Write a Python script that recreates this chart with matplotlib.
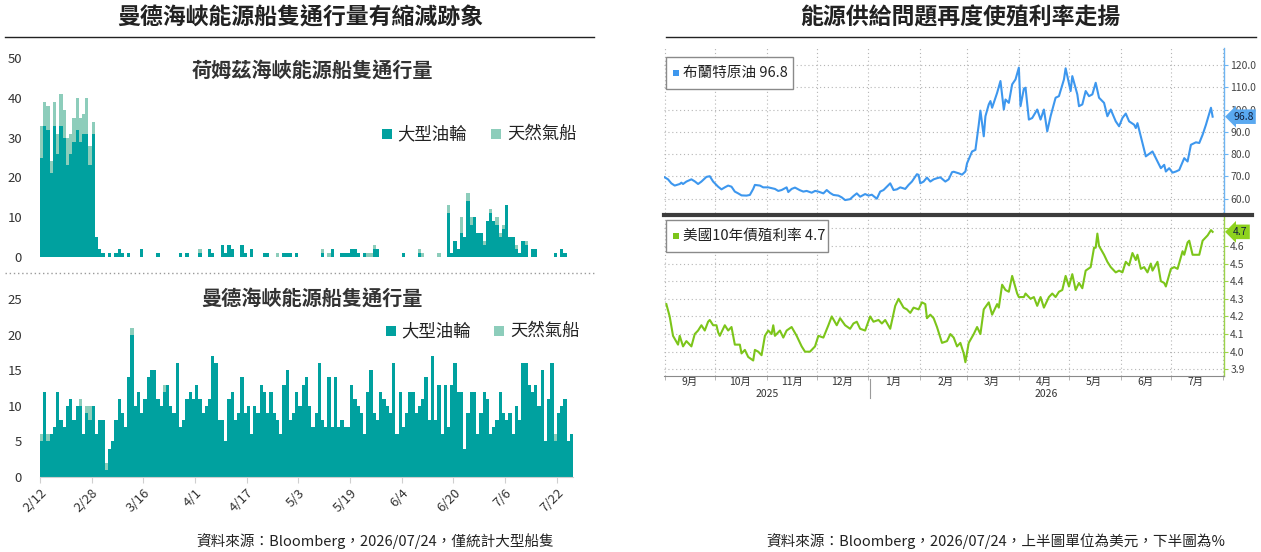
import numpy as np
import pandas as pd
import matplotlib
matplotlib.use('Agg')
import matplotlib.pyplot as plt
import matplotlib.dates as mdates
import matplotlib.transforms as mtransforms
from matplotlib.patches import Rectangle
from matplotlib.lines import Line2D
from matplotlib.ticker import FixedFormatter, FuncFormatter

plt.rcParams['font.family'] = ['Noto Sans CJK TC', 'DejaVu Sans']

# ---------------- data: left panel (daily counts from 2/12) ----------------
ship_start = '2026-02-12'
tick_labels = ['2/12', '2/28', '3/16', '4/1', '4/17', '5/3', '5/19', '6/4', '6/20', '7/6', '7/22']

hormuz_tanker = [25, 33, 32, 21, 33, 26, 33, 30, 23, 26, 29, 32, 29, 31, 31, 23, 31, 5, 2, 1,
                 0, 1, 0, 1, 2, 1, 0, 1, 0, 0, 0, 2, 0, 0, 0, 0, 1, 0, 0, 0,
                 0, 0, 0, 1, 0, 1, 0, 0, 0, 1, 0, 0, 2, 1, 0, 0, 3, 1, 3, 2,
                 0, 0, 3, 1, 0, 2, 0, 0, 0, 1, 1, 0, 0, 0, 0, 1, 1, 1, 0, 1,
                 0, 0, 0, 0, 0, 0, 0, 1, 0, 0, 2, 0, 0, 1, 1, 1, 2, 2, 1, 0,
                 1, 0, 0, 2, 2, 0, 0, 0, 0, 0, 0, 0, 1, 0, 0, 0, 0, 1, 0, 0,
                 0, 0, 0, 0, 0, 0, 11, 1, 4, 2, 6, 5, 14, 8, 10, 6, 6, 3, 9, 11,
                 9, 8, 5, 7, 13, 5, 5, 2, 1, 4, 3, 0, 2, 2, 0, 0, 0, 0, 0, 1,
                 0, 2, 1, 0, 0]
hormuz_lng = [8, 6, 6, 3, 6, 5, 8, 7, 7, 5, 6, 8, 6, 5, 9, 5, 3, 0, 0, 0,
              0, 0, 0, 0, 0, 0, 0, 0, 0, 0, 0, 0, 0, 0, 0, 0, 0, 0, 0, 0,
              0, 0, 0, 0, 0, 0, 0, 0, 0, 1, 0, 0, 0, 0, 0, 0, 0, 0, 0, 0,
              0, 0, 0, 0, 0, 0, 0, 0, 0, 0, 0, 0, 0, 1, 0, 0, 0, 0, 0, 0,
              0, 0, 0, 0, 0, 0, 0, 1, 0, 1, 0, 0, 0, 0, 0, 0, 0, 0, 0, 0,
              0, 1, 1, 1, 0, 0, 0, 0, 0, 0, 0, 0, 0, 0, 0, 0, 0, 1, 1, 0,
              0, 0, 0, 1, 0, 0, 2, 0, 0, 0, 4, 0, 2, 2, 0, 0, 0, 1, 0, 1,
              0, 2, 1, 1, 0, 0, 0, 1, 0, 0, 1, 0, 0, 0, 0, 0, 0, 0, 0, 0,
              0, 0, 0, 0, 0]

mandeb_tanker = [5, 12, 5, 6, 7, 12, 8, 7, 10, 11, 8, 10, 10, 6, 9, 8, 10, 6, 8, 8,
                 1, 4, 5, 8, 11, 9, 7, 14, 20, 10, 12, 9, 11, 14, 15, 15, 11, 10, 12, 13,
                 10, 9, 16, 7, 8, 11, 12, 11, 13, 11, 9, 10, 11, 17, 16, 8, 8, 5, 11, 12,
                 8, 9, 14, 9, 10, 6, 10, 9, 13, 12, 9, 12, 9, 8, 6, 13, 15, 8, 9, 12,
                 10, 13, 14, 10, 7, 9, 16, 8, 7, 14, 7, 14, 7, 8, 7, 7, 13, 11, 10, 9,
                 6, 12, 15, 9, 8, 12, 11, 10, 9, 16, 6, 12, 7, 9, 12, 12, 9, 10, 11, 14,
                 8, 17, 8, 13, 6, 13, 7, 13, 16, 12, 12, 4, 9, 12, 12, 6, 9, 12, 11, 6,
                 7, 8, 12, 9, 8, 9, 6, 10, 8, 16, 16, 13, 12, 13, 10, 15, 5, 11, 16, 5,
                 9, 10, 11, 5, 6]
mandeb_lng = [1, 0, 1, 0, 0, 0, 0, 0, 0, 0, 0, 0, 1, 0, 1, 2, 0, 0, 0, 0,
              1, 0, 0, 0, 0, 0, 0, 0, 1, 0, 0, 0, 0, 0, 0, 0, 0, 0, 1, 0,
              0, 0, 0, 0, 0, 0, 0, 0, 0, 0, 0, 0, 0, 0, 0, 0, 0, 0, 0, 0,
              0, 0, 0, 0, 0, 0, 0, 0, 0, 0, 0, 0, 0, 0, 0, 0, 0, 0, 0, 0,
              0, 0, 0, 0, 0, 0, 0, 0, 0, 0, 0, 0, 0, 0, 0, 0, 0, 0, 0, 0,
              0, 0, 0, 0, 0, 0, 0, 0, 0, 0, 0, 0, 0, 0, 0, 0, 0, 0, 0, 0,
              0, 0, 0, 0, 0, 0, 0, 0, 0, 0, 0, 0, 0, 0, 0, 0, 0, 0, 0, 0,
              0, 0, 0, 0, 0, 0, 0, 0, 0, 0, 0, 0, 0, 0, 0, 0, 0, 0, 0, 1,
              0, 0, 0, 0, 0]

# ---------------- data: right panel ----------------
series_start = '2025-09-01'
brent_day = [0, 2, 4, 6, 9, 10, 11, 13, 16, 18, 20, 22, 25, 27, 29, 32, 34, 36, 38, 40,
             42, 44, 46, 49, 51, 53, 54, 57, 59, 62, 66, 68, 70, 73, 74, 76, 78, 81, 83, 85,
             88, 90, 92, 95, 97, 99, 101, 104, 106, 108, 111, 113, 115, 117, 120, 122, 124, 127, 129, 131,
             133, 135, 137, 139, 141, 144, 146, 148, 151, 152, 153, 155, 157, 159, 161, 163, 165, 168, 170, 172,
             173, 176, 178, 180, 181, 184, 186, 188, 189, 191, 192, 194, 195, 196, 199, 201, 203, 204, 206, 208,
             210, 212, 213, 215, 216, 218, 220, 223, 225, 227, 229, 231, 234, 236, 239, 240, 243, 244, 247, 248,
             250, 252, 254, 256, 258, 260, 263, 265, 267, 270, 272, 274, 276, 278, 281, 282, 283, 285, 288, 292,
             294, 297, 299, 300, 302, 304, 306, 308, 311, 313, 315, 318, 320, 322, 324, 327, 328]
brent = [69.6, 68.7, 66.9, 65.9, 66.6, 67.2, 66.6, 67.7, 68.7, 67.8,
         66.6, 67.7, 69.8, 70.1, 67.7, 65.4, 64.2, 65.1, 65.9, 65.4,
         63.2, 62.4, 61.5, 61.4, 61.7, 64.4, 66.2, 65.9, 65.1, 65.1,
         64.4, 63.5, 63.9, 65.1, 63.0, 64.4, 65.0, 63.8, 63.2, 63.5,
         62.7, 63.5, 63.2, 62.4, 63.9, 62.6, 61.7, 61.4, 60.6, 59.4,
         59.8, 61.2, 62.4, 60.9, 62.1, 61.4, 61.8, 60.0, 63.2, 63.9,
         65.4, 66.9, 63.9, 64.2, 65.1, 64.4, 66.2, 67.7, 71.0, 70.7,
         66.9, 67.7, 69.5, 67.7, 68.7, 69.2, 69.6, 67.7, 68.7, 71.9,
         72.1, 71.4, 70.8, 72.2, 75.9, 81.2, 81.9, 93.2, 99.5, 88.0,
         97.0, 102.3, 103.8, 100.8, 107.5, 112.8, 100.0, 104.5, 103.0, 111.3,
         113.5, 118.8, 101.5, 109.3, 109.8, 95.5, 96.2, 100.0, 95.5, 100.0,
         90.2, 97.0, 105.3, 106.0, 113.5, 118.5, 108.3, 115.0, 106.8, 101.5,
         102.3, 108.3, 106.0, 106.8, 112.0, 105.3, 103.0, 97.0, 100.0, 94.7,
         92.5, 96.2, 98.2, 94.7, 93.2, 91.7, 93.9, 88.0, 79.0, 81.2,
         78.2, 73.7, 75.2, 72.2, 73.7, 71.7, 72.2, 72.9, 78.2, 76.7,
         84.2, 85.3, 85.0, 88.7, 93.2, 100.8, 96.8]

yield_day = [1, 3, 5, 8, 9, 11, 13, 16, 18, 20, 22, 24, 26, 27, 29, 31, 32, 33, 36, 38,
             40, 42, 45, 46, 48, 50, 53, 54, 56, 58, 60, 62, 64, 65, 66, 69, 71, 73, 76, 79,
             82, 84, 87, 90, 92, 95, 98, 100, 103, 105, 108, 111, 113, 115, 117, 120, 123, 125, 128, 130,
             132, 135, 138, 140, 143, 145, 147, 149, 152, 154, 156, 157, 159, 161, 163, 166, 169, 171, 173, 175,
             177, 179, 180, 182, 185, 187, 189, 191, 194, 196, 199, 200, 202, 204, 206, 208, 211, 212, 215, 216,
             219, 221, 223, 225, 227, 230, 232, 234, 236, 238, 240, 242, 244, 246, 248, 250, 252, 255, 257, 258,
             259, 260, 263, 265, 267, 270, 272, 274, 276, 278, 280, 282, 283, 285, 287, 289, 291, 292, 295, 297,
             299, 300, 303, 305, 307, 310, 311, 313, 314, 316, 318, 320, 322, 325, 327, 328]
us10y = [4.27, 4.20, 4.09, 4.04, 4.09, 4.03, 4.06, 4.03, 4.10, 4.12,
         4.15, 4.12, 4.17, 4.18, 4.15, 4.15, 4.11, 4.09, 4.15, 4.12,
         4.14, 4.04, 4.04, 3.99, 4.01, 3.97, 3.95, 4.01, 4.00, 3.98,
         4.09, 4.12, 4.10, 4.15, 4.09, 4.12, 4.08, 4.12, 4.14, 4.09,
         4.03, 4.00, 4.00, 4.03, 4.09, 4.08, 4.15, 4.20, 4.15, 4.19,
         4.15, 4.13, 4.16, 4.17, 4.13, 4.12, 4.20, 4.17, 4.18, 4.16,
         4.18, 4.13, 4.26, 4.30, 4.25, 4.24, 4.22, 4.25, 4.24, 4.28,
         4.27, 4.19, 4.21, 4.19, 4.14, 4.05, 4.06, 4.10, 4.08, 4.03,
         4.05, 3.99, 3.94, 4.05, 4.10, 4.14, 4.10, 4.24, 4.28, 4.21,
         4.27, 4.25, 4.38, 4.35, 4.34, 4.43, 4.33, 4.31, 4.31, 4.33,
         4.30, 4.31, 4.26, 4.31, 4.25, 4.31, 4.33, 4.31, 4.34, 4.35,
         4.43, 4.37, 4.44, 4.35, 4.39, 4.36, 4.46, 4.48, 4.59, 4.59,
         4.67, 4.60, 4.55, 4.51, 4.48, 4.45, 4.46, 4.45, 4.51, 4.49,
         4.56, 4.52, 4.55, 4.47, 4.48, 4.45, 4.50, 4.46, 4.51, 4.40,
         4.39, 4.37, 4.47, 4.48, 4.47, 4.57, 4.55, 4.62, 4.63, 4.55,
         4.55, 4.55, 4.63, 4.66, 4.69, 4.68]

brent_ticks = [60, 70, 80, 90, 100, 110, 120]
brent_tick_labels = ['60.0', '70.0', '80.0', '90.0', '100.0', '110.0', '120.0']
yield_ticks = [3.9, 4.0, 4.1, 4.2, 4.3, 4.4, 4.5, 4.6, 4.7]
yield_tick_labels = ['3.9', '4.0', '4.1', '4.2', '4.3', '4.4', '4.5', '4.6', '']  # 4.7 sits under the value tag
year_labels = ['2025', '2026']

# ---------------- styling ----------------
TEAL = '#00A19F'
MINT = '#8DCDBB'
BLUE = '#3D97EE'
BLUE_AX = '#6DB4F2'
GREEN = '#7CC51A'
GREEN_AX = '#9CD34A'
GRID = '#b5b5b5'

W, H = 1261, 552
fig = plt.figure(figsize=(W / 100, H / 100), dpi=100)


def fx(x):
    return x / W


def fy(y):
    return 1 - y / H


def axrect(l, t, r, b):
    return [fx(l), fy(b), (r - l) / W, (b - t) / H]


def hline(x0, x1, y, **kw):
    fig.add_artist(Line2D([fx(x0), fx(x1)], [fy(y), fy(y)], transform=fig.transFigure, **kw))


def vline(x, y0, y1, **kw):
    fig.add_artist(Line2D([fx(x), fx(x)], [fy(y0), fy(y1)], transform=fig.transFigure, **kw))


def rect(x0, y0, x1, y1, **kw):
    fig.add_artist(Rectangle((fx(x0), fy(y1)), (x1 - x0) / W, (y1 - y0) / H,
                             transform=fig.transFigure, **kw))


# ---------------- titles ----------------
fig.text(fx(300), fy(18), '曼德海峽能源船隻通行量有縮減跡象', ha='center', va='center',
         fontsize=16.5, fontweight='bold', color='#222')
fig.text(fx(960), fy(18), '能源供給問題再度使殖利率走揚', ha='center', va='center',
         fontsize=16.5, fontweight='bold', color='#222')
hline(5, 594, 37, color='#222', lw=1.0)
hline(666, 1256, 37, color='#222', lw=1.0)

# ---------------- left panel ----------------
n_days = len(hormuz_tanker)
xs = np.arange(n_days)


def ship_axes(ax, tanker, lng, ymax, ystep):
    ax.bar(xs, tanker, width=1.0, align='edge', color=TEAL, lw=0)
    ax.bar(xs, lng, bottom=tanker, width=1.0, align='edge', color=MINT, lw=0)
    ax.set_xlim(0, n_days)
    ax.set_ylim(0, ymax)
    ax.set_yticks(np.arange(0, ymax + 1, ystep))
    for s in ax.spines.values():
        s.set_visible(False)
    ax.tick_params(axis='y', length=0, pad=13, labelsize=9.5, labelcolor='#333')


ax1 = fig.add_axes(axrect(40, 58.3, 573, 256.7))
ship_axes(ax1, hormuz_tanker, hormuz_lng, 50, 10)
ax1.set_xticks([])

ax2 = fig.add_axes(axrect(40, 299.3, 573, 477))
ship_axes(ax2, mandeb_tanker, mandeb_lng, 25, 5)
ax2.spines['bottom'].set_visible(True)
ax2.spines['bottom'].set_color('#cfcfcf')
ax2.set_xticks(np.arange(0, 16 * len(tick_labels), 16))
ax2.set_xticklabels(tick_labels, rotation=45, ha='right', rotation_mode='anchor')
ax2.tick_params(axis='x', length=4, color='#cfcfcf', labelsize=9.5, labelcolor='#333', pad=3)

fig.text(fx(312), fy(70), '荷姆茲海峽能源船隻通行量', ha='center', va='center',
         fontsize=14.5, fontweight='bold', color='#333')
fig.text(fx(312), fy(298), '曼德海峽能源船隻通行量', ha='center', va='center',
         fontsize=14.5, fontweight='bold', color='#333')

# legends
for (sx, tx, sx2, tx2, cy) in [(381.5, 397, 490.5, 507, 134), (386, 401, 494, 510, 331)]:
    rect(sx, cy - 5, sx + 10, cy + 5, facecolor=TEAL, edgecolor='none')
    fig.text(fx(tx), fy(cy), '大型油輪', ha='left', va='center', fontsize=12.5, color='#222')
    rect(sx2, cy - 5, sx2 + 10, cy + 5, facecolor=MINT, edgecolor='none')
    fig.text(fx(tx2), fy(cy), '天然氣船', ha='left', va='center', fontsize=12.5, color='#222')

hline(5, 595, 273, color='#9a9a9a', lw=1.0, ls=(0, (1, 2)))

fig.text(fx(375), fy(541), '資料來源：Bloomberg，2026/07/24，僅統計大型船隻', ha='center', va='center',
         fontsize=10.5, color='#222')

# ---------------- right panel ----------------
t0 = pd.Timestamp(series_start)
brent_dates = t0 + pd.to_timedelta(brent_day, unit='D')
yield_dates = t0 + pd.to_timedelta(yield_day, unit='D')
xlim = (t0 - pd.Timedelta(days=0.4), t0 + pd.Timedelta(days=334.8))

ax3 = fig.add_axes(axrect(664, 48, 1224, 213))
ax4 = fig.add_axes(axrect(664, 216, 1224, 376))

for ax, dates, vals, col, axcol, ticks, tlabels, ylim in [
        (ax3, brent_dates, brent, BLUE, BLUE_AX, brent_ticks, brent_tick_labels, (53.6, 127.6)),
        (ax4, yield_dates, us10y, GREEN, GREEN_AX, yield_ticks, yield_tick_labels, (3.862, 4.770))]:
    ax.plot(dates, vals, color=col, lw=1.5, solid_joinstyle='round', zorder=3)
    ax.set_xlim(*xlim)
    ax.set_ylim(*ylim)
    ax.yaxis.tick_right()
    ax.set_yticks(ticks)
    ax.yaxis.set_major_formatter(FixedFormatter(tlabels))
    ax.tick_params(axis='y', length=3, width=0.8, color=axcol, labelsize=7.5,
                   labelcolor='#444', pad=1.5)
    for s in ['left', 'top', 'bottom']:
        ax.spines[s].set_visible(False)
    ax.spines['right'].set_color(axcol)
    ax.spines['right'].set_linewidth(1.0)
    ax.grid(True, axis='y', ls=(0, (1, 2.5)), color=GRID, lw=0.8)
    ax.xaxis.set_minor_locator(mdates.MonthLocator())
    ax.xaxis.grid(True, which='minor', ls=(0, (1, 2.5)), color=GRID, lw=0.8)

ax3.xaxis.set_major_locator(mdates.MonthLocator(bymonthday=16))
ax3.tick_params(axis='x', which='both', length=0, labelbottom=False)

ax4.spines['bottom'].set_visible(True)
ax4.spines['bottom'].set_color('#8a8a8a')
ax4.xaxis.set_major_locator(mdates.MonthLocator(bymonthday=16))
ax4.xaxis.set_major_formatter(FuncFormatter(lambda v, p: f'{mdates.num2date(v).month}月'))
ax4.tick_params(axis='x', which='major', length=0, labelsize=7.5, labelcolor='#333', pad=0.5)
ax4.tick_params(axis='x', which='minor', length=3, color='#aaaaaa')

# value tags
for ax, vals, fc, txt in [(ax3, brent, '#5AA9F0', f'{brent[-1]:.1f}'),
                          (ax4, us10y, '#8ED21E', f'{us10y[-1]:.1f}')]:
    tr = mtransforms.blended_transform_factory(fig.transFigure, ax.transData)
    ax.text(fx(1233), vals[-1], txt, transform=tr, ha='left', va='center', fontsize=7.5,
            color='#14213d', clip_on=False, zorder=6,
            bbox=dict(boxstyle='larrow,pad=0.22', fc=fc, ec='none'))

# separator between charts
hline(664, 1252, 214.5, color='#3c3c3c', lw=3.0)

# legend boxes
rect(666, 57, 793, 89, facecolor='white', edgecolor='#8a8a8a', lw=1.0)
rect(673, 70, 679, 76, facecolor=BLUE, edgecolor='none')
fig.text(fx(683), fy(73), f'布蘭特原油 {brent[-1]:.1f}', ha='left', va='center', fontsize=10.5, color='#222')
rect(666, 220, 828, 252, facecolor='white', edgecolor='#8a8a8a', lw=1.0)
rect(673, 233, 679, 239, facecolor=GREEN, edgecolor='none')
fig.text(fx(683), fy(236), f'美國10年債殖利率 {us10y[-1]:.1f}', ha='left', va='center', fontsize=10.5, color='#222')

# year labels
fig.text(fx(767), fy(394), year_labels[0], ha='center', va='center', fontsize=7.5, color='#333')
fig.text(fx(1046), fy(394), year_labels[1], ha='center', va='center', fontsize=7.5, color='#333')
vline(869.5, 379, 398, color='#9a9a9a', lw=0.8)

fig.text(fx(996), fy(541), '資料來源：Bloomberg，2026/07/24，上半圖單位為美元，下半圖為%', ha='center',
         va='center', fontsize=10.5, color='#222')

fig.savefig('out.png', dpi=100)
